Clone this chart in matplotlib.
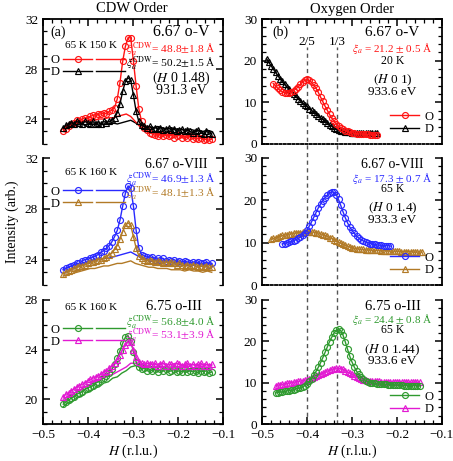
import numpy as np
import matplotlib
matplotlib.use('Agg')
import matplotlib.pyplot as plt
from matplotlib.ticker import MultipleLocator
from matplotlib.lines import Line2D
import matplotlib.transforms as mtransforms

plt.rcParams['font.family'] = ['Liberation Serif', 'DejaVu Serif']
plt.rcParams['mathtext.fontset'] = 'stix'
plt.rcParams['xtick.direction'] = 'in'
plt.rcParams['ytick.direction'] = 'in'
plt.rcParams['axes.linewidth'] = 1.3

# ---------------- data: CDW order (left column) ----------------
# 65 K scans on a 0.006 r.l.u. grid, 150/160 K scans on a 0.01 grid
cdw_h_start, cdw_h_step, cdw_n = -0.455, 0.006, 56
hot_h_start, hot_h_step, hot_n = -0.455, 0.01, 34

ov_O_65K = [23.0, 23.2, 23.4, 23.6, 23.7, 23.9, 23.8, 24.0, 24.1, 24.0, 24.2, 24.3, 24.2, 24.4,
            24.4, 24.5, 24.4, 24.6, 24.7, 24.9, 25.6, 26.9, 28.6, 29.8, 30.5, 30.5, 28.6, 26.6,
            24.8, 23.8, 23.3, 23.1, 22.9, 22.8, 22.7, 22.6, 22.8, 22.6, 22.7, 22.6, 22.7, 22.5,
            22.6, 22.7, 22.5, 22.6, 22.5, 22.6, 22.4, 22.5, 22.4, 22.5, 22.3, 22.4, 22.3, 22.4]
ov_D_65K = [23.3, 23.5, 23.6, 23.7, 23.6, 23.8, 23.7, 23.6, 23.8, 23.7, 23.6, 23.8, 23.6, 23.7,
            23.6, 23.8, 23.7, 23.8, 23.9, 24.1, 24.5, 25.2, 26.2, 27.0, 27.3, 27.1, 25.9, 24.6,
            23.8, 23.5, 23.4, 23.3, 23.4, 23.2, 23.3, 23.2, 23.3, 23.1, 23.2, 23.3, 23.1, 23.2,
            23.0, 23.1, 23.2, 23.0, 23.1, 23.0, 22.9, 23.0, 23.1, 22.9, 22.8, 23.0, 22.9, 22.8]
ov_O_150K = [23.2, 23.4, 23.6, 23.7, 23.8, 23.8, 23.9, 23.9, 24.0, 24.0, 24.1, 24.1, 24.2, 24.3,
             24.4, 24.2, 23.8, 23.4, 23.1, 22.9, 22.9, 22.8, 22.8, 22.7, 22.8, 22.7, 22.7, 22.6,
             22.7, 22.6, 22.6, 22.5, 22.6, 22.5]
ov_D_150K = [23.3, 23.4, 23.5, 23.5, 23.6, 23.5, 23.6, 23.6, 23.5, 23.6, 23.6, 23.7, 23.6, 23.7,
             23.8, 23.9, 23.7, 23.5, 23.4, 23.4, 23.3, 23.4, 23.3, 23.2, 23.3, 23.2, 23.2, 23.1,
             23.2, 23.1, 23.1, 23.0, 23.1, 23.0]

ov8_O_65K = [23.2, 23.3, 23.4, 23.5, 23.6, 23.7, 23.7, 23.9, 24.0, 24.0, 24.1, 24.2, 24.3, 24.4,
             24.6, 24.7, 24.9, 25.1, 25.4, 25.8, 26.3, 27.1, 28.2, 29.2, 29.8, 29.6, 28.2, 26.3,
             24.9, 24.4, 24.3, 24.2, 24.1, 24.2, 24.0, 24.1, 24.0, 24.1, 23.9, 24.0, 23.9, 24.0,
             23.8, 23.9, 23.8, 23.9, 23.8, 23.7, 23.8, 23.7, 23.8, 23.7, 23.7, 23.8, 23.6, 23.7]
ov8_D_65K = [22.9, 23.0, 23.1, 23.2, 23.3, 23.4, 23.5, 23.5, 23.6, 23.7, 23.8, 23.8, 23.9, 24.0,
             24.0, 24.1, 24.2, 24.4, 24.5, 24.8, 25.1, 25.6, 26.2, 26.7, 26.9, 26.7, 25.8, 24.9,
             24.3, 24.1, 24.0, 23.9, 24.0, 23.9, 23.8, 23.9, 23.8, 23.7, 23.8, 23.7, 23.8, 23.7,
             23.6, 23.7, 23.6, 23.5, 23.6, 23.5, 23.6, 23.5, 23.4, 23.5, 23.4, 23.5, 23.4, 23.4]
ov8_O_160K = [23.2, 23.4, 23.5, 23.6, 23.7, 23.8, 23.9, 24.0, 24.0, 24.1, 24.1, 24.2, 24.3, 24.4,
              24.5, 24.6, 24.4, 24.2, 24.1, 24.0, 24.0, 23.9, 23.9, 23.9, 23.8, 23.8, 23.8, 23.7,
              23.8, 23.7, 23.7, 23.6, 23.7, 23.6]
ov8_D_160K = [22.7, 22.8, 22.9, 23.0, 23.1, 23.2, 23.3, 23.3, 23.4, 23.5, 23.5, 23.6, 23.7, 23.7,
              23.8, 23.9, 23.7, 23.6, 23.5, 23.4, 23.4, 23.3, 23.3, 23.3, 23.2, 23.2, 23.2, 23.1,
              23.2, 23.1, 23.1, 23.0, 23.1, 23.0]

oiii_O_65K = [19.6, 19.8, 19.9, 20.1, 20.2, 20.4, 20.5, 20.6, 20.8, 20.9, 21.0, 21.1, 21.3, 21.4,
              21.6, 21.7, 21.9, 22.1, 22.4, 22.8, 23.3, 23.9, 24.5, 25.0, 25.1, 24.7, 23.8, 23.0,
              22.6, 22.4, 22.5, 22.3, 22.4, 22.3, 22.4, 22.2, 22.4, 22.3, 22.4, 22.2, 22.3, 22.4,
              22.2, 22.3, 22.2, 22.4, 22.2, 22.3, 22.2, 22.3, 22.1, 22.3, 22.2, 22.3, 22.1, 22.2]
oiii_D_65K = [20.2, 20.4, 20.5, 20.7, 20.8, 21.0, 21.1, 21.2, 21.3, 21.5, 21.6, 21.7, 21.8, 21.9,
              22.0, 22.2, 22.3, 22.5, 22.7, 22.9, 23.2, 23.6, 24.0, 24.4, 24.6, 24.6, 24.0, 23.4,
              23.0, 22.9, 22.8, 22.9, 22.8, 22.8, 22.9, 22.7, 22.8, 22.9, 22.7, 22.8, 22.8, 22.7,
              22.9, 22.8, 22.7, 22.8, 22.9, 22.7, 22.8, 22.7, 22.8, 22.9, 22.7, 22.8, 22.7, 22.8]
oiii_O_160K = [19.4, 19.7, 19.8, 20.1, 20.2, 20.5, 20.6, 20.9, 21.0, 21.3, 21.4, 21.7, 21.8, 22.1,
               22.3, 22.6, 22.7, 22.6, 22.6, 22.7, 22.5, 22.6, 22.6, 22.5, 22.6, 22.5, 22.5, 22.6,
               22.4, 22.5, 22.5, 22.4, 22.5, 22.4]
oiii_D_160K = [20.0, 20.2, 20.4, 20.6, 20.8, 21.0, 21.2, 21.4, 21.5, 21.7, 21.9, 22.0, 22.2, 22.4,
               22.6, 22.9, 22.9, 22.8, 22.8, 22.9, 22.8, 22.8, 22.9, 22.8, 22.8, 22.9, 22.8, 22.7,
               22.8, 22.8, 22.7, 22.8, 22.8, 22.7]

# ---------------- data: oxygen order (right column) ----------------
ox_h_step = 0.005
ov_ox_O_start, ov_ox_D_start = -0.475, -0.490
ov_ox_O = [14.5, 14.0, 13.4, 12.9, 12.5, 12.3, 12.2, 12.3, 12.5, 12.8, 13.2, 13.7, 14.3, 14.9,
           15.3, 15.5, 15.3, 14.8, 14.1, 13.4, 12.4, 11.3, 10.2, 9.1, 8.1, 7.1, 6.2, 5.5, 4.8,
           4.3, 3.9, 3.5, 3.2, 3.0, 2.8, 2.7, 2.6, 2.5, 2.4, 2.4, 2.3, 2.3, 2.3, 2.2, 2.2, 2.2, 2.2]
ov_ox_D = [20.5, 19.6, 18.8, 18.0, 17.2, 16.4, 15.7, 15.0, 14.3, 13.7, 13.1, 12.5, 11.9, 11.4,
           10.9, 10.4, 9.9, 9.4, 9.0, 8.5, 8.1, 7.6, 7.2, 6.8, 6.3, 5.9, 5.4, 5.0, 4.6, 4.3, 3.9,
           3.6, 3.4, 3.2, 3.0, 2.9, 2.8, 2.8, 2.7, 2.7, 2.7, 2.6, 2.7, 2.7, 2.6, 2.7, 2.7, 2.6,
           2.7, 2.7]

ov8_ox_O_start, ov8_ox_D_start = -0.455, -0.480
ov8_ox_O = [9.7, 9.8, 10.0, 10.1, 10.3, 10.5, 10.7, 11.0, 11.3, 11.7, 12.3, 13.0, 13.9, 14.9,
            16.0, 17.1, 18.2, 19.1, 19.9, 20.6, 21.2, 21.7, 22.0, 21.9, 21.3, 20.2, 18.8, 17.3,
            15.9, 14.7, 13.7, 12.9, 12.2, 11.6, 11.1, 10.7, 10.4, 10.2, 10.0, 9.8, 9.7, 9.6,
            9.5, 9.4, 9.4, 9.3, 9.3, 9.3, 9.2]
ov8_ox_D = [10.8, 11.0, 11.2, 11.4, 11.5, 11.7, 11.8, 11.9, 12.0, 12.1, 12.2, 12.3, 12.4, 12.4,
            12.5, 12.5, 12.6, 12.6, 12.5, 12.5, 12.4, 12.3, 12.1, 11.9, 11.7, 11.5, 11.2, 11.0,
            10.7, 10.4, 10.1, 9.9, 9.6, 9.4, 9.2, 9.0, 8.8, 8.7, 8.6, 8.5, 8.4, 8.4, 8.3, 8.3,
            8.3, 8.2, 8.2, 8.2, 8.2, 8.1, 8.1, 8.1, 8.1, 8.0, 8.0, 8.0, 8.0, 8.0, 7.9, 7.9, 7.9,
            7.9, 7.9, 7.8, 7.8, 7.8, 7.8, 7.8]

oiii_ox_O_start, oiii_ox_D_start = -0.470, -0.470
oiii_ox_O = [7.5, 7.6, 7.7, 7.8, 7.9, 8.0, 8.1, 8.2, 8.3, 8.5, 8.6, 8.8, 9.0, 9.3, 9.7, 10.3,
             11.0, 11.8, 12.7, 13.7, 14.8, 16.0, 17.3, 18.6, 19.9, 21.0, 22.0, 22.7, 23.0, 22.6,
             21.5, 19.9, 18.1, 16.4, 15.0, 13.8, 12.8, 12.0, 11.4, 10.9, 10.5, 10.2, 10.0, 9.9,
             9.8, 9.7, 9.7, 9.6, 9.6, 9.6, 9.5, 9.5, 9.5, 9.4, 9.4, 9.4, 9.4, 9.3, 9.3, 9.3,
             9.3, 9.3, 9.3, 9.2, 9.2]
oiii_ox_D = [9.3, 9.4, 9.5, 9.6, 9.7, 9.8, 9.9, 10.0, 10.1, 10.2, 10.3, 10.4, 10.5, 10.6, 10.7,
             10.9, 11.1, 11.3, 11.5, 11.8, 12.0, 12.3, 12.5, 12.8, 13.0, 13.2, 13.4, 13.5, 13.5,
             13.4, 13.2, 12.9, 12.6, 12.3, 12.0, 11.7, 11.4, 11.1, 10.9, 10.7, 10.6, 10.5, 10.4,
             10.4, 10.3, 10.3, 10.3, 10.2, 10.2, 10.2, 10.2, 10.2, 10.2, 10.1, 10.1, 10.2, 10.1,
             10.1, 10.2, 10.1, 10.1, 10.1, 10.2, 10.1, 10.1]

RED, BLACK, BLUE = '#ff1414', '#000000', '#2a2aff'
BROWN, GREEN, MAGENTA = '#b27a26', '#2f9a2f', '#e21ad2'

left_samples = ['6.67 o-V', '6.67 o-VIII', '6.75 o-III']
left_hot_temp = ['150 K', '160 K', '160 K']
left_xi_O = ['48.8', '46.9', '56.8']
left_err_O = ['1.8', '1.3', '4.0']
left_xi_D = ['50.2', '48.1', '53.1']
left_err_D = ['1.5', '1.3', '3.9']
right_xi = ['21.2', '17.3', '24.4']
right_err = ['0.5', '0.7', '0.8']
right_temp = ['20 K', '65 K', '65 K']
right_hkl = ['$(H$ 0 1)', '$(H$ 0 1.4)', '$(H$ 0 1.44)']
right_energy = ['933.6 eV', '933.3 eV', '933.6 eV']

cold_rows = [(ov_O_65K, ov_D_65K), (ov8_O_65K, ov8_D_65K), (oiii_O_65K, oiii_D_65K)]
hot_rows = [(ov_O_150K, ov_D_150K), (ov8_O_160K, ov8_D_160K), (oiii_O_160K, oiii_D_160K)]
ox_rows = [((ov_ox_O_start, ov_ox_O), (ov_ox_D_start, ov_ox_D)),
           ((ov8_ox_O_start, ov8_ox_O), (ov8_ox_D_start, ov8_ox_D)),
           ((oiii_ox_O_start, oiii_ox_O), (oiii_ox_D_start, oiii_ox_D))]
row_colors = [(RED, BLACK), (BLUE, BROWN), (GREEN, MAGENTA)]
left_ylims = [(22, 32), (22, 32), (18, 28)]


def grid(start, step, n):
    return start + step * np.arange(n)


W, H = 453, 461
fig = plt.figure(figsize=(W / 100, H / 100), dpi=100)

left_x0, right_x0 = 43 / W, 262 / W
col_w = 180 / W
rows_px = [(19, 144), (158, 285), (300, 424)]

# text anchors inside the panels (axes fractions), one entry per row
legend_y = [0.78, 0.84, 0.87]
temps_y = [0.79, 0.885, 0.94]
name_y = [0.895, 0.95, 0.95]
name_x_left = [0.768, 0.743, 0.725]
name_fs_left = [11.5, 10, 10.5]
name_fs_right = [11, 10, 10.5]
xi_left_y = [(0.76, 0.65), (0.835, 0.725), (0.825, 0.715)]
right_text_y = [(0.893, 0.765, 0.66, 0.51, 0.415),
                (0.95, 0.84, 0.755, 0.605, 0.51),
                (0.95, 0.84, 0.762, 0.597, 0.506)]
right_text_x = 0.725

# dashed guide lines at 2/5 and 1/3 through the whole oxygen column
guide = fig.add_axes([right_x0, 1 - 424 / H, col_w, (424 - 19) / H])
guide.set_xlim(-0.5, -0.1)
guide.set_ylim(0, 1)
guide.axis('off')
for h in [-2 / 5, -1 / 3]:
    guide.axvline(h, ymax=(424 - 47) / (424 - 19), color='#555555', lw=1.0, ls=(0, (3, 2.5)))

mk = dict(ms=4.3, mfc='none', mew=0.85, lw=1.0)
fs_tick = 9.5

for i, (top, bot) in enumerate(rows_px):
    c_o, c_d = row_colors[i]
    rect_y = 1 - bot / H
    rect_h = (bot - top) / H

    # ---------- left: CDW ----------
    ax = fig.add_axes([left_x0, rect_y, col_w, rect_h])
    ax.set_facecolor('none')
    h_cold = grid(cdw_h_start, cdw_h_step, cdw_n)
    h_hot = grid(hot_h_start, hot_h_step, hot_n)
    o_cold, d_cold = cold_rows[i]
    o_hot, d_hot = hot_rows[i]
    ax.plot(h_hot, d_hot, color=c_d, lw=1.0)
    ax.plot(h_hot, o_hot, color=c_o, lw=1.0)
    lo, = ax.plot(h_cold, o_cold, marker='o', color=c_o, **mk)
    ld, = ax.plot(h_cold, d_cold, marker='^', color=c_d, **mk)
    ax.set_xlim(-0.5, -0.1)
    ax.set_ylim(*left_ylims[i])
    ax.yaxis.set_major_locator(MultipleLocator(4))
    ax.yaxis.set_minor_locator(MultipleLocator(1))
    ax.xaxis.set_major_locator(MultipleLocator(0.1))
    ax.xaxis.set_minor_locator(MultipleLocator(0.02))
    ax.tick_params(which='both', left=True, right=True, labelsize=fs_tick)
    ax.tick_params(which='major', length=5, width=1.1)
    ax.tick_params(which='minor', length=3, width=0.9)
    lh_o = Line2D([], [], color=c_o, lw=1.0)
    lh_d = Line2D([], [], color=c_d, lw=1.0)
    ax.legend([lo, ld, lh_o, lh_d], ['O', 'D', '', ''], ncol=2, markerfirst=False,
              frameon=False, loc='upper left', bbox_to_anchor=(0.0, legend_y[i]),
              fontsize=9, handlelength=2.3, handletextpad=0.3, columnspacing=0.0,
              labelspacing=0.0, borderaxespad=0.2)
    ax.text(0.12, temps_y[i], '65 K ' + left_hot_temp[i], transform=ax.transAxes,
            fontsize=8, ha='left', va='center')
    ax.text(name_x_left[i], name_y[i], left_samples[i], transform=ax.transAxes,
            fontsize=name_fs_left[i], ha='center', va='center')
    y_o, y_d = xi_left_y[i]
    ax.text(0.958, y_o, r'$\xi_a^{\rm CDW}$= ' + left_xi_O[i] + r'$\pm$' + left_err_O[i] + ' Å',
            transform=ax.transAxes, fontsize=8.2, color=c_o, ha='right', va='center')
    ax.text(0.958, y_d, r'$\xi_a^{\rm CDW}$= ' + left_xi_D[i] + r'$\pm$' + left_err_D[i] + ' Å',
            transform=ax.transAxes, fontsize=8.2, color=c_d, ha='right', va='center')
    if i == 0:
        ax.text(0.04, 0.89, '(a)', transform=ax.transAxes, fontsize=10, ha='left', va='center')
        ax.text(0.77, 0.525, '$(H$ 0 1.48)', transform=ax.transAxes, fontsize=10, ha='center', va='center')
        ax.text(0.77, 0.425, '931.3 eV', transform=ax.transAxes, fontsize=10, ha='center', va='center')
        ax.spines['bottom'].set_visible(False)
        ax.tick_params(axis='x', which='both', bottom=False, labelbottom=False, top=True)
    elif i == 1:
        ax.spines['bottom'].set_visible(False)
        ax.spines['top'].set_visible(False)
        ax.tick_params(axis='x', which='both', bottom=False, labelbottom=False, top=False)
    else:
        ax.spines['top'].set_visible(False)
        ax.tick_params(axis='x', which='both', top=False)
        ax.set_xlabel('$H$ (r.l.u.)', fontsize=10, labelpad=1)

    # ---------- right: oxygen order ----------
    ax = fig.add_axes([right_x0, rect_y, col_w, rect_h])
    ax.set_facecolor('none')
    (o_start, o_vals), (d_start, d_vals) = ox_rows[i]
    ax.plot(grid(d_start, ox_h_step, len(d_vals)), d_vals, marker='^', color=c_d, label='D', **mk)
    ax.plot(grid(o_start, ox_h_step, len(o_vals)), o_vals, marker='o', color=c_o, label='O', **mk)
    ax.set_xlim(-0.5, -0.1)
    ax.set_ylim(0, 30)
    ax.yaxis.set_major_locator(MultipleLocator(10))
    ax.yaxis.set_minor_locator(MultipleLocator(2))
    ax.xaxis.set_major_locator(MultipleLocator(0.1))
    ax.xaxis.set_minor_locator(MultipleLocator(0.02))
    ax.tick_params(which='both', left=True, right=True, labelsize=fs_tick)
    ax.tick_params(which='major', length=5, width=1.1)
    ax.tick_params(which='minor', length=3, width=0.9)
    hd, ld_ = ax.get_legend_handles_labels()
    ax.legend(hd[::-1], ld_[::-1], frameon=False, loc='lower right', bbox_to_anchor=(1.0, 0.0),
              fontsize=9, handlelength=2.3, handletextpad=0.4, labelspacing=0.05, borderaxespad=0.3)
    y_name, y_xi, y_t, y_hkl, y_e = right_text_y[i]
    ax.text(right_text_x, y_name, left_samples[i], transform=ax.transAxes,
            fontsize=name_fs_right[i], ha='center', va='center')
    ax.text(right_text_x, y_xi, r'$\xi_a$ = ' + right_xi[i] + r' $\pm$ ' + right_err[i] + ' Å',
            transform=ax.transAxes, fontsize=8, color=c_o, ha='center', va='center')
    ax.text(right_text_x, y_t, right_temp[i], transform=ax.transAxes, fontsize=8.5,
            ha='center', va='center')
    ax.text(right_text_x, y_hkl, right_hkl[i], transform=ax.transAxes, fontsize=9.5,
            ha='center', va='center')
    ax.text(right_text_x, y_e, right_energy[i], transform=ax.transAxes, fontsize=9.5,
            ha='center', va='center')
    if i == 0:
        ax.text(0.06, 0.89, '(b)', transform=ax.transAxes, fontsize=10, ha='left', va='center')
        blend = mtransforms.blended_transform_factory(ax.transData, ax.transAxes)
        ax.text(-2 / 5, 0.815, '2/5', transform=blend, fontsize=9.5, ha='center', va='center')
        ax.text(-1 / 3, 0.815, '1/3', transform=blend, fontsize=9.5, ha='center', va='center')
    if i < 2:
        ax.spines['bottom'].set_linestyle((0, (1.2, 1.2)))
        ax.tick_params(axis='x', which='both', bottom=False, labelbottom=False, top=(i == 0))
        if i == 1:
            ax.spines['top'].set_visible(False)
    else:
        ax.spines['top'].set_visible(False)
        ax.tick_params(axis='x', which='both', top=False)
        ax.set_xlabel('$H$ (r.l.u.)', fontsize=10, labelpad=1)

fig.text(132 / W, 1 - 9 / H, 'CDW Order', fontsize=10.5, ha='center', va='center')
fig.text(352 / W, 1 - 9 / H, 'Oxygen Order', fontsize=10.5, ha='center', va='center')
fig.text(12 / W, 1 - 222 / H, 'Intensity (arb.)', fontsize=10, rotation=90, ha='center', va='center')

fig.savefig('out.png', dpi=100)
